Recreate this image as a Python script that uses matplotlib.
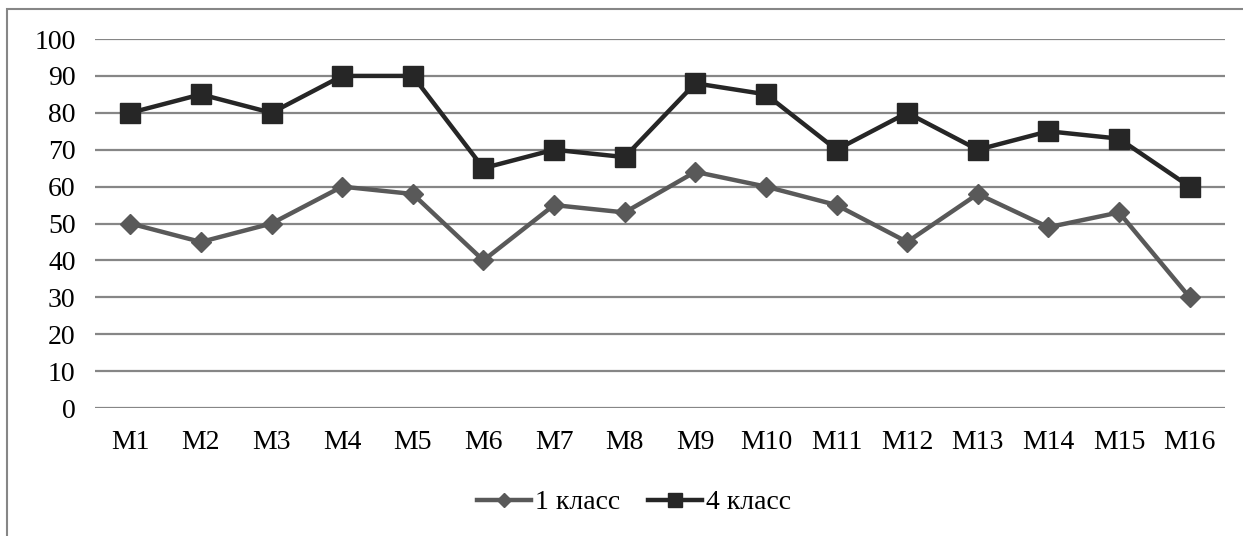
import matplotlib
matplotlib.use("Agg")
import matplotlib.pyplot as plt
from matplotlib.patches import Rectangle

categories = ["M1", "M2", "M3", "M4", "M5", "M6", "M7", "M8",
              "M9", "M10", "M11", "M12", "M13", "M14", "M15", "M16"]
class1 = [50, 45, 50, 60, 58, 40, 55, 53, 64, 60, 55, 45, 58, 49, 53, 30]
class4 = [80, 85, 80, 90, 90, 65, 70, 68, 88, 85, 70, 80, 70, 75, 73, 60]
series_names = ["1 класс", "4 класс"]

plt.rcParams["font.family"] = "serif"
plt.rcParams["font.serif"] = ["Liberation Serif", "Times New Roman", "DejaVu Serif"]

fig = plt.figure(figsize=(12.43, 5.36), dpi=100)
ax = fig.add_axes([0.0764, 0.2388, 0.9091, 0.6884])

x = list(range(len(categories)))
ax.plot(x, class1, color="#595959", lw=3.2, marker="D", ms=10,
        label=series_names[0], zorder=3)
ax.plot(x, class4, color="#262626", lw=3.2, marker="s", ms=14,
        label=series_names[1], zorder=4)

ax.set_xlim(-0.5, len(categories) - 0.5)
ax.set_ylim(0, 100)
ax.set_yticks(range(0, 101, 10))
ax.set_xticks(x)
ax.set_xticklabels(categories)
ax.tick_params(axis="both", length=0, labelsize=20, colors="black")
ax.tick_params(axis="x", pad=16)
ax.tick_params(axis="y", pad=14)
ax.yaxis.grid(True, color="#868686", lw=1.6)
ax.set_axisbelow(True)
for s in ax.spines.values():
    s.set_visible(False)

leg = ax.legend(loc="center", bbox_to_anchor=(0.510, 0.062), bbox_transform=fig.transFigure,
                ncol=2, frameon=False, fontsize=20, handlelength=1.95,
                handletextpad=0.15, columnspacing=1.0)
leg.legend_handles[0].set_markersize(7)
leg.legend_handles[1].set_markersize(10)

# outer chart border
fig.patches.append(Rectangle((7 / 1243, -0.01), 1.1, 1 - 9 / 536 + 0.01,
                             transform=fig.transFigure, fill=False,
                             ec="#868686", lw=1.5))

plt.savefig("out.png", dpi=100)
plt.close()
